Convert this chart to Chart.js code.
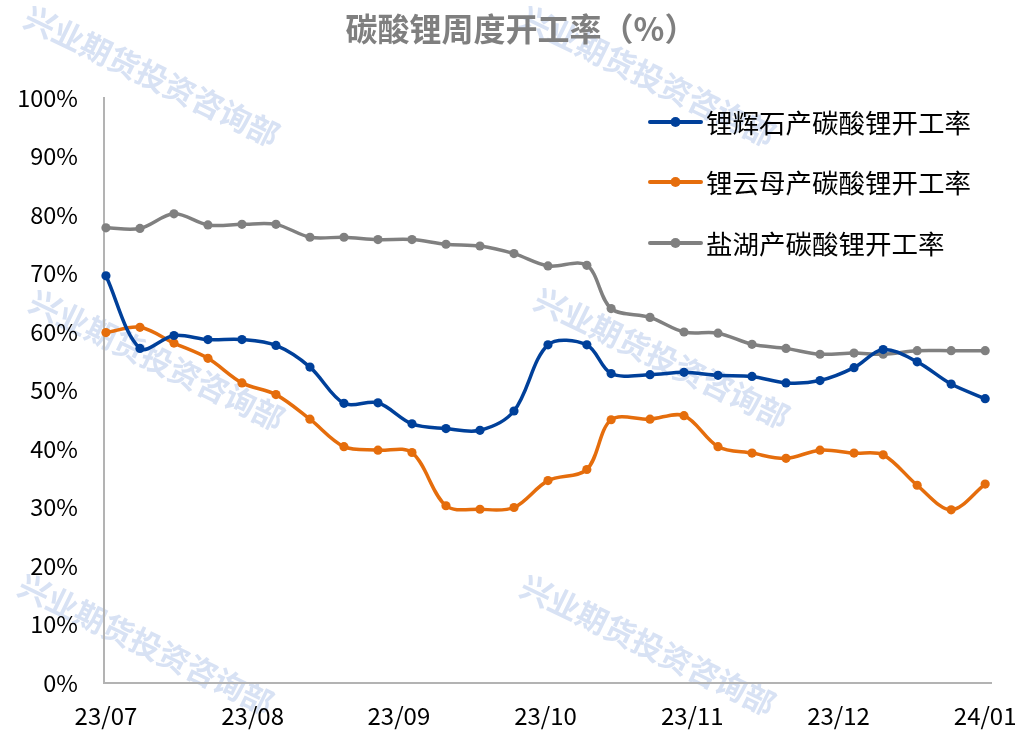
<!DOCTYPE html>
<html>
<head>
<meta charset="utf-8">
<script src="https://cdn.jsdelivr.net/npm/chart.js@4.4.0/dist/chart.umd.min.js"></script>
<style>
html,body{margin:0;padding:0;background:#ffffff;}
#wrap{width:1015px;height:731px;position:relative;}
</style>
</head>
<body>
<div id="wrap"><canvas id="c" width="1015" height="731"></canvas></div>
<script>
// ---- data (days after first observation, weekly) ----
const weekDays = [0,7,14,21,28,35,42,49,56,63,70,77,84,91,99,104,112,119,126,133,140,147,154,160,167,174,181];
const spodumene = [69.6,57.2,59.4,58.7,58.7,57.7,54.0,47.8,47.9,44.3,43.5,43.2,46.5,57.8,57.8,52.9,52.7,53.1,52.6,52.4,51.3,51.7,53.9,57.0,54.9,51.1,48.6];
const lepidolite = [59.9,60.8,58.1,55.5,51.3,49.3,45.1,40.4,39.8,39.4,30.3,29.7,30.0,34.6,36.5,45.0,45.1,45.7,40.4,39.3,38.4,39.8,39.3,39.0,33.8,29.6,34.0];
const saltLake = [77.8,77.7,80.2,78.3,78.4,78.4,76.2,76.2,75.8,75.8,75.0,74.7,73.4,71.3,71.4,64.0,62.5,60.0,59.8,57.9,57.2,56.2,56.4,56.2,56.8,56.8,56.8];
const seriesNames = ['锂辉石产碳酸锂开工率','锂云母产碳酸锂开工率','盐湖产碳酸锂开工率'];
const tickLabels = ['23/07','23/08','23/09','23/10','23/11','23/12','24/01'];
const tickDays = [0,30.2,60.3,90.5,120.7,150.8,181];
const yTickValues = [0,10,20,30,40,50,60,70,80,90,100];
const titleText = '碳酸锂周度开工率（%）';
const watermarkText = '兴业期货投资咨询部';

const colors = ['#00409a','#e56d0c','#808080'];
const FONT = '"Noto Sans CJK SC", "Noto Sans", sans-serif';

function toPoints(vals){ return vals.map((v,i)=>({x:weekDays[i], y:v})); }

const watermarkPlugin = {
  id:'watermark',
  beforeDraw(chart){
    const ctx = chart.ctx;
    ctx.save();
    ctx.fillStyle = '#d8e2f4';
    ctx.font = 'bold 31px ' + FONT;
    ctx.textAlign = 'center';
    ctx.textBaseline = 'middle';
    const centers = [[152,76],[648,76],[157,360],[662,358],[146,644],[648,645]];
    centers.forEach(([cx,cy])=>{
      ctx.save();
      ctx.translate(cx,cy);
      ctx.rotate(26*Math.PI/180);
      ctx.fillText(watermarkText,0,0);
      ctx.restore();
    });
    ctx.restore();
  }
};

const titlePlugin = {
  id:'chartTitle',
  afterDraw(chart){
    const ctx = chart.ctx;
    ctx.save();
    ctx.fillStyle = '#7f7f7f';
    ctx.font = 'bold 32px ' + FONT;
    ctx.textAlign = 'center';
    ctx.textBaseline = 'middle';
    ctx.fillText(titleText, 521, 29);
    ctx.restore();
  }
};

const legendPlugin = {
  id:'insideLegend',
  afterDraw(chart){
    const ctx = chart.ctx;
    ctx.save();
    const rows = [122,182,243];
    chart.data.datasets.forEach((ds,i)=>{
      const y = rows[i];
      ctx.strokeStyle = ds.borderColor;
      ctx.lineWidth = 4;
      ctx.lineCap = 'round';
      ctx.beginPath(); ctx.moveTo(650,y); ctx.lineTo(701,y); ctx.stroke();
      ctx.fillStyle = ds.borderColor;
      ctx.beginPath(); ctx.arc(675.5,y,5,0,Math.PI*2); ctx.fill();
      ctx.fillStyle = '#000000';
      ctx.font = '26.5px ' + FONT;
      ctx.textAlign = 'left';
      ctx.textBaseline = 'middle';
      ctx.fillText(ds.label,706,y+1);
    });
    ctx.restore();
  }
};

const datasets = [spodumene, lepidolite, saltLake].map((vals,i)=>({
  label: seriesNames[i],
  data: toPoints(vals),
  borderColor: colors[i],
  backgroundColor: colors[i],
  borderWidth: 3.5,
  pointRadius: 4.6,
  pointBorderWidth: 0,
  pointBackgroundColor: colors[i],
  tension: 0.33,
  clip: false
}));

new Chart(document.getElementById('c'), {
  type:'line',
  data:{ datasets },
  options:{
    responsive:false,
    animation:false,
    devicePixelRatio:1,
    layout:{ padding:{ left:0, right:24, top:98, bottom:0 } },
    plugins:{
      legend:{ display:false },
      tooltip:{ enabled:false },
      title:{ display:false }
    },
    scales:{
      x:{
        type:'linear',
        min:-0.4,
        max:182.2,
        grid:{ display:false, drawTicks:false },
        border:{ display:true, color:'#b3b3b3', width:2 },
        afterBuildTicks(s){ s.ticks = tickDays.map(v=>({value:v})); },
        afterFit(s){ s.height = 48; s.paddingLeft = 0; s.paddingRight = 0; },
        ticks:{
          autoSkip:false, maxRotation:0, minRotation:0,
          padding:18,
          color:'#000000',
          font:{ family:FONT, size:24 },
          callback:(v,i)=>tickLabels[i]
        }
      },
      y:{
        min:0, max:100,
        grid:{ display:false, drawTicks:false },
        border:{ display:true, color:'#b3b3b3', width:2 },
        afterBuildTicks(s){ s.ticks = yTickValues.map(v=>({value:v})); },
        afterFit(s){ s.width = 104; },
        ticks:{
          padding:26,
          color:'#000000',
          font:{ family:FONT, size:23.5 },
          callback:(v)=>v+'%'
        }
      }
    }
  },
  plugins:[watermarkPlugin, titlePlugin, legendPlugin]
});
</script>
</body>
</html>
